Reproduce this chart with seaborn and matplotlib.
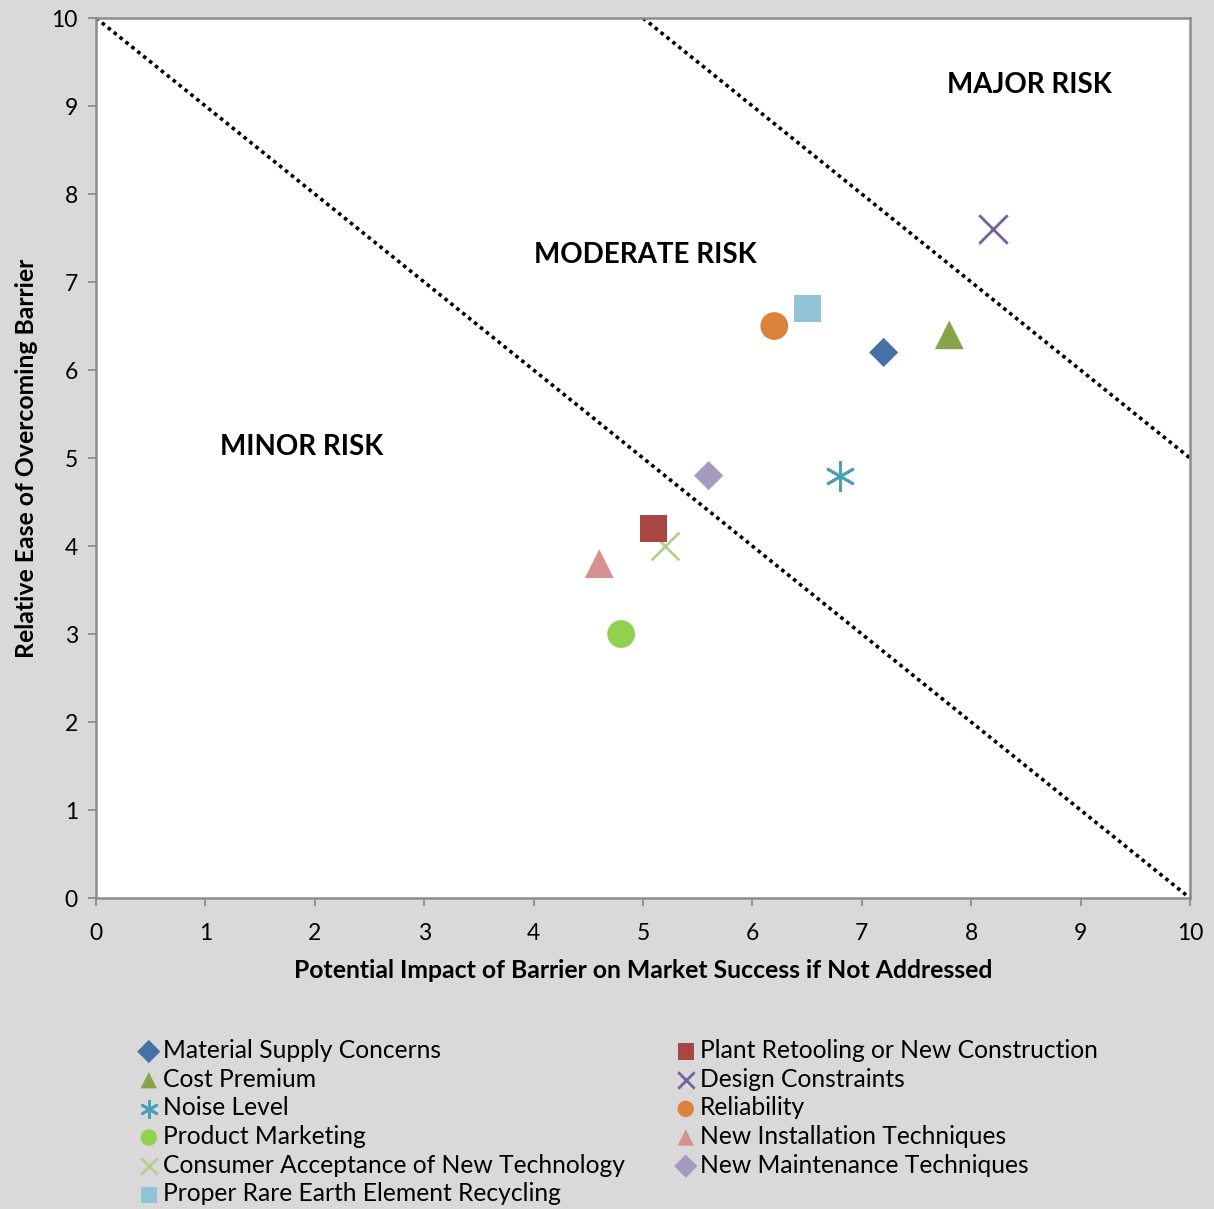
import numpy as np
import matplotlib
matplotlib.use("Agg")
import matplotlib.pyplot as plt
import seaborn as sns

# barrier data (x = potential impact, y = relative ease)
labels = ["Material Supply Concerns", "Cost Premium", "Noise Level", "Product Marketing",
          "Consumer Acceptance of New Technology", "Proper Rare Earth Element Recycling",
          "Plant Retooling or New Construction", "Design Constraints", "Reliability",
          "New Installation Techniques", "New Maintenance Techniques"]
impact = [7.2, 7.8, 6.8, 4.8, 5.2, 6.5, 5.1, 8.2, 6.2, 4.6, 5.6]
ease = [6.2, 6.4, 4.8, 3.0, 4.0, 6.7, 4.2, 7.6, 6.5, 3.8, 4.8]

markers = ["D", "^", (6, 2, 0), "o", "x", "s", "s", "x", "o", "^", "D"]
colors = ["#4571a6", "#88a44b", "#4aa0b6", "#92d050", "#b5cd91", "#93c3d6",
          "#a94543", "#7561a0", "#dc823a", "#d49190", "#a69abe"]
sizes = [220, 430, 420, 400, 400, 380, 380, 420, 400, 430, 220]

# risk boundary lines and region labels
boundary_x = [[0, 10], [5, 10]]
boundary_y = [[10, 0], [10, 5]]
zones = ["MINOR RISK", "MODERATE RISK", "MAJOR RISK"]
zone_x = [1.88, 5.02, 8.53]
zone_y = [5.12, 7.31, 9.24]

sns.set_style("white")
plt.rcParams["font.family"] = ["Lato", "DejaVu Sans"]
plt.rcParams["text.color"] = "black"
plt.rcParams["axes.labelcolor"] = "black"
plt.rcParams["xtick.color"] = "black"
plt.rcParams["ytick.color"] = "black"

bg = "#d9d9d9"
fig = plt.figure(figsize=(12.14, 12.09), dpi=100, facecolor=bg)
ax = fig.add_axes([0.0791, 0.2572, 0.9011, 0.7279])
ax.set_facecolor("white")

for bx, by in zip(boundary_x, boundary_y):
    sns.lineplot(x=bx, y=by, ax=ax, color="black", lw=2.6,
                 linestyle=(0, (1, 1.1)), zorder=2)

for i, lab in enumerate(labels):
    line_art = markers[i] == "x" or isinstance(markers[i], tuple)
    if line_art:
        sns.scatterplot(x=[impact[i]], y=[ease[i]], ax=ax, marker=markers[i],
                        color=colors[i], s=sizes[i], linewidth=2.0, label=lab, zorder=3)
    else:
        sns.scatterplot(x=[impact[i]], y=[ease[i]], ax=ax, marker=markers[i],
                        color=colors[i], s=sizes[i], linewidth=0, edgecolor="none",
                        label=lab, zorder=3)

for t, zx, zy in zip(zones, zone_x, zone_y):
    ax.text(zx, zy, t, ha="center", va="center", fontsize=20, fontweight="bold",
            color="black")

ax.set_xlim(0, 10)
ax.set_ylim(0, 10)
ax.set_xticks(range(0, 11))
ax.set_yticks(range(0, 11))
ax.tick_params(axis="both", labelsize=16.5, length=6, width=1.3, color="#8c8c8c",
               direction="out", left=True, bottom=True, labelcolor="black")
ax.tick_params(axis="x", pad=12)
ax.tick_params(axis="y", pad=7)
for sp in ax.spines.values():
    sp.set_color("#8c8c8c")
    sp.set_linewidth(1.8)

ax.set_xlabel("Potential Impact of Barrier on Market Success if Not Addressed",
              fontsize=17.8, fontweight="bold", labelpad=11, color="black")
ax.set_ylabel("Relative Ease of Overcoming Barrier", fontsize=17.8, fontweight="bold",
              labelpad=10, color="black")

leg = ax.legend(loc="upper left", bbox_to_anchor=(0.028, -0.149), ncol=2, frameon=False,
                fontsize=17.7, handletextpad=0.07, handlelength=1.0, labelspacing=0.23,
                columnspacing=1.98, borderaxespad=0)
for h in leg.legend_handles:
    h.set_sizes([140])
for txt in leg.get_texts():
    txt.set_color("black")

fig.savefig("out.png", dpi=100, facecolor=bg)
